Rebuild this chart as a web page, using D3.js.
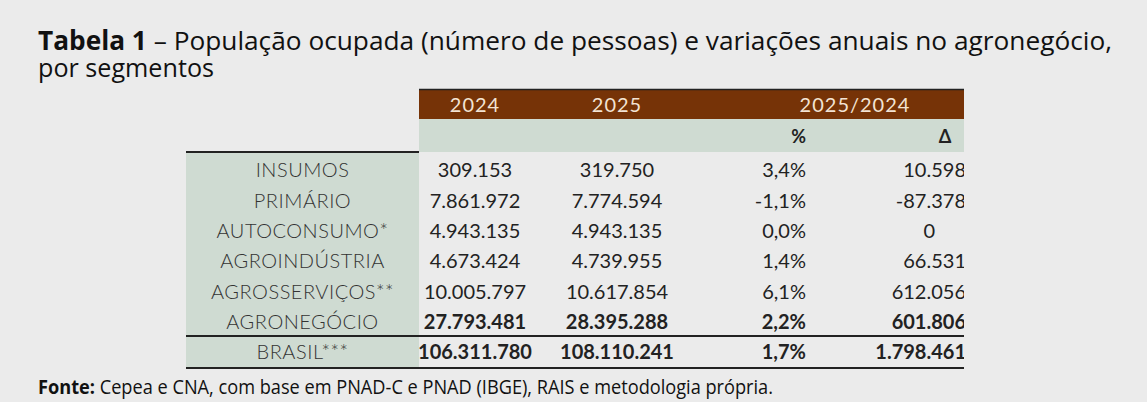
<!DOCTYPE html>
<html>
<head>
<meta charset="utf-8">
<script src="https://d3js.org/d3.v7.min.js"></script>
<style>
body { margin: 0; background: #ebebeb; }
</style>
</head>
<body>
<div id="chart"></div>
<script>
// table data
var segments = ["INSUMOS", "PRIMÁRIO", "AUTOCONSUMO*", "AGROINDÚSTRIA", "AGROSSERVIÇOS**", "AGRONEGÓCIO", "BRASIL***"];
var v2024 = ["309.153", "7.861.972", "4.943.135", "4.673.424", "10.005.797", "27.793.481", "106.311.780"];
var v2025 = ["319.750", "7.774.594", "4.943.135", "4.739.955", "10.617.854", "28.395.288", "108.110.241"];
var pct = ["3,4%", "-1,1%", "0,0%", "1,4%", "6,1%", "2,2%", "1,7%"];
var delta = ["10.598", "-87.378", "0", "66.531", "612.056", "601.806", "1.798.461"];
var boldRows = ["AGRONEGÓCIO", "BRASIL***"];

var W = 1147, H = 402;
var svg = d3.select("#chart").append("svg").attr("width", W).attr("height", H);

var tfont = "'Open Sans', sans-serif";
var cfont = "Lato, 'Open Sans', sans-serif";

// title (condensed look via glyph squeeze)
var title = svg.append("text").attr("x", 38).attr("y", 50)
  .style("font-family", tfont).style("font-size", "26px").attr("fill", "#111")
  .attr("textLength", 1074).attr("lengthAdjust", "spacingAndGlyphs");
title.append("tspan").style("font-weight", "bold").text("Tabela 1");
title.append("tspan").text(" – População ocupada (número de pessoas) e variações anuais no agronegócio,");
svg.append("text").attr("x", 38).attr("y", 77)
  .style("font-family", tfont).style("font-size", "26px").attr("fill", "#111")
  .attr("textLength", 176).attr("lengthAdjust", "spacingAndGlyphs").text("por segmentos");

// layout scales
var x0 = 186, xLab = 419, xEnd = 964;
var y = d3.scaleBand().domain(segments.slice(0, 6)).range([155, 337]);
var yB = 352; // centre of BRASIL row

svg.append("defs").append("clipPath").attr("id", "clip")
  .append("rect").attr("x", 0).attr("y", 0).attr("width", xEnd).attr("height", H);

// header bars
svg.append("rect").attr("x", xLab).attr("y", 89).attr("width", xEnd - xLab).attr("height", 30).attr("fill", "#763307");
svg.append("line").attr("x1", xLab).attr("x2", xEnd).attr("y1", 89.5).attr("y2", 89.5).attr("stroke", "#222").attr("stroke-width", 1.5);
svg.append("rect").attr("x", xLab).attr("y", 119).attr("width", xEnd - xLab).attr("height", 33).attr("fill", "#cfdbd2");
svg.append("rect").attr("x", x0).attr("y", 152).attr("width", xLab - x0).attr("height", 216).attr("fill", "#cfdbd2");

var cols = [
  {x: 475, anchor: "middle", vals: v2024},
  {x: 617, anchor: "middle", vals: v2025},
  {x: 806, anchor: "end", vals: pct},
  {x: 966, anchor: "end", vals: delta}
];

var hdr = [{t: "2024", x: 475}, {t: "2025", x: 617}, {t: "2025/2024", x: 855}];
svg.selectAll(".hdr").data(hdr).join("text")
  .attr("x", function(d) { return d.x; }).attr("y", 112).attr("text-anchor", "middle")
  .style("font-family", cfont).style("font-size", "20px").attr("fill", "#f3e3d3")
  .style("letter-spacing", "1px").text(function(d) { return d.t; });
svg.append("text").attr("x", 806).attr("y", 143).attr("text-anchor", "end")
  .style("font-family", cfont).style("font-size", "18px").style("font-weight", "bold").attr("fill", "#222").text("%");
svg.append("text").attr("x", 945).attr("y", 143).attr("text-anchor", "middle")
  .style("font-family", cfont).style("font-size", "18px").style("font-weight", "bold").attr("fill", "#222").text("Δ");

function rowY(i) { return i < 6 ? y(segments[i]) + y.bandwidth() / 2 : yB; }

var body = svg.append("g").attr("clip-path", "url(#clip)");
body.selectAll(".lab").data(segments).join("text")
  .attr("x", (x0 + xLab) / 2).attr("y", function(d, i) { return rowY(i); })
  .attr("dy", "0.35em").attr("text-anchor", "middle")
  .style("font-family", cfont).style("font-size", "20px").style("font-weight", "300").attr("fill", "#333")
  .style("letter-spacing", "0.5px")
  .text(function(d) { return d; });

cols.forEach(function(c) {
  body.selectAll(null).data(c.vals).join("text")
    .attr("x", function(d, i) { return c.vals === delta && d === "0" ? 935 : c.x; })
    .attr("y", function(d, i) { return rowY(i); })
    .attr("dy", "0.35em").attr("text-anchor", c.anchor)
    .style("font-family", cfont).style("font-size", "20px")
    .style("font-weight", function(d, i) { return boldRows.indexOf(segments[i]) >= 0 ? "bold" : "normal"; })
    .attr("fill", "#222").text(function(d) { return d; });
});

// rules
[[x0, xLab, 152], [x0, xEnd, 336], [x0, xEnd, 368]].forEach(function(l) {
  svg.append("line").attr("x1", l[0]).attr("x2", l[1]).attr("y1", l[2]).attr("y2", l[2])
    .attr("stroke", "#222").attr("stroke-width", 2);
});

// source
var src = svg.append("text").attr("x", 38).attr("y", 394)
  .style("font-family", tfont).style("font-size", "20px").attr("fill", "#111")
  .attr("textLength", 735).attr("lengthAdjust", "spacingAndGlyphs");
src.append("tspan").style("font-weight", "bold").text("Fonte:");
src.append("tspan").text(" Cepea e CNA, com base em PNAD-C e PNAD (IBGE), RAIS e metodologia própria.");
</script>
</body>
</html>
